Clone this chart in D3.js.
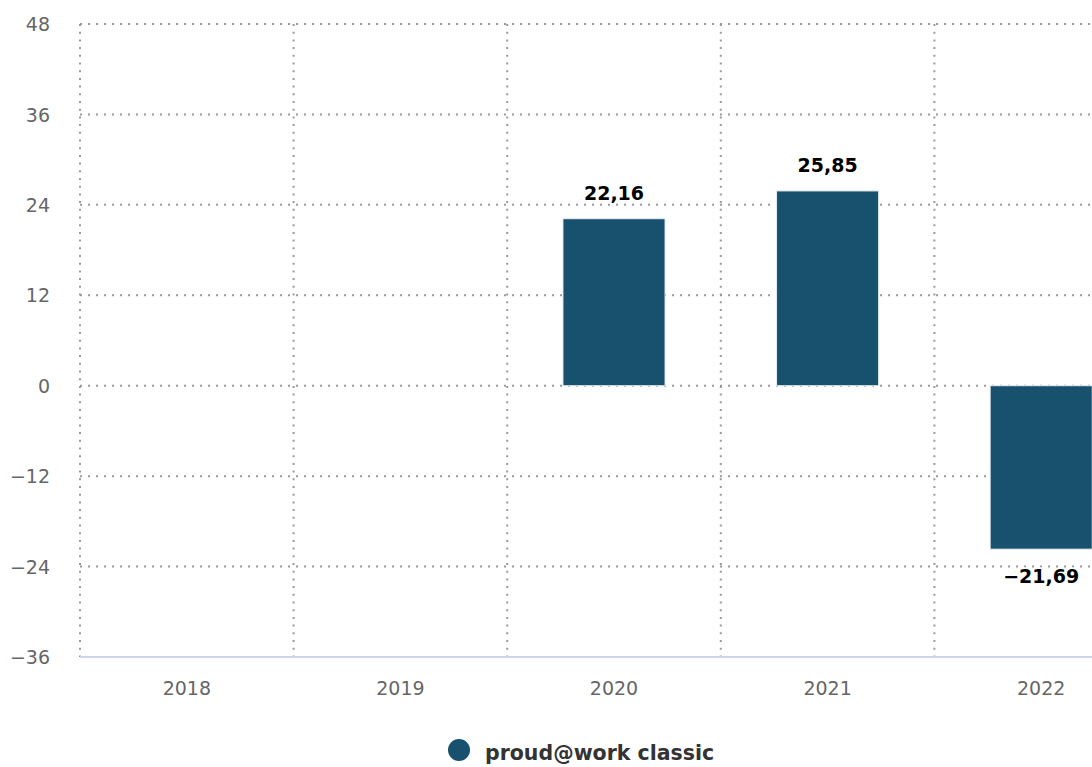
<!DOCTYPE html>
<html><head><meta charset="utf-8">
<script src="https://cdn.jsdelivr.net/npm/d3@7"></script>
<style>
html,body{margin:0;padding:0;background:#fff;overflow:hidden}
svg{display:block}
</style></head>
<body>
<script>
const categories = ["2018","2019","2020","2021","2022"];
const values = [null, null, 22.16, 25.85, -21.69];
const labels = ["", "", "22,16", "25,85", "\u221221,69"];
const yTicks = [-36,-24,-12,0,12,24,36,48];
const seriesName = "proud@work classic";

const W = 1092, H = 767;
const mLeft = 80, mRight = 1148, mTop = 24, mBottom = 657;
const font = "'DejaVu Sans', Verdana, sans-serif";

const svg = d3.select("body").append("svg").attr("width", W).attr("height", H);

const x = d3.scaleBand().domain(categories).range([mLeft, mRight]).paddingInner(0).paddingOuter(0);
const y = d3.scaleLinear().domain([-36, 48]).range([mBottom, mTop]);

// horizontal gridlines
svg.append("g").selectAll("line").data(yTicks.filter(d => d !== -36)).join("line")
  .attr("x1", mLeft).attr("x2", mRight)
  .attr("y1", d => y(d)).attr("y2", d => y(d))
  .attr("stroke", "#9a9a9a").attr("stroke-width", 2).attr("stroke-dasharray", "2,6");

// vertical gridlines at band boundaries
svg.append("g").selectAll("line").data(categories).join("line")
  .attr("x1", d => x(d)).attr("x2", d => x(d))
  .attr("y1", mTop).attr("y2", mBottom)
  .attr("stroke", "#9a9a9a").attr("stroke-width", 2).attr("stroke-dasharray", "2,5.7");

// y axis labels
const yAxis = d3.axisLeft(y).tickValues(yTicks).tickSize(0).tickPadding(0)
  .tickFormat(d => d < 0 ? "\u2212" + Math.abs(d) : String(d));
const yg = svg.append("g").attr("transform", `translate(50,0)`).call(yAxis);
yg.select(".domain").remove();
yg.selectAll("text").attr("font-family", font).attr("font-size", 19).attr("fill", "#666").attr("dy", "0.35em");

// x axis
const xAxis = d3.axisBottom(x).tickSize(0).tickPadding(0);
const xg = svg.append("g").attr("transform", `translate(0,${mBottom})`).call(xAxis);
xg.select(".domain").remove();
xg.selectAll("text").attr("font-family", font).attr("font-size", 19).attr("fill", "#666").attr("y", 38).attr("dy", 0);
svg.append("line").attr("x1", mLeft).attr("x2", mRight).attr("y1", mBottom).attr("y2", mBottom)
  .attr("stroke", "#ccd6eb").attr("stroke-width", 2);

// bars
const bw = x.bandwidth() * 0.478;
const data = categories.map((c, i) => ({c, v: values[i], l: labels[i]})).filter(d => d.v !== null);
svg.append("g").selectAll("rect").data(data).join("rect")
  .attr("x", d => x(d.c) + x.bandwidth()/2 - bw/2)
  .attr("width", bw)
  .attr("y", d => y(Math.max(0, d.v)))
  .attr("height", d => Math.abs(y(d.v) - y(0)))
  .attr("fill", "#17516e").attr("stroke", "#e6eef3").attr("stroke-width", 1);

// data labels
svg.append("g").selectAll("text").data(data).join("text")
  .attr("x", d => x(d.c) + x.bandwidth()/2)
  .attr("y", d => d.v >= 0 ? y(d.v) - 19 : y(d.v) + 34)
  .attr("text-anchor", "middle")
  .attr("font-family", font).attr("font-size", 19).attr("font-weight", "bold")
  .attr("fill", "#000").attr("stroke", "#fff").attr("stroke-width", 3).attr("paint-order", "stroke")
  .attr("stroke-linejoin", "round")
  .text(d => d.l);

// legend
const lg = svg.append("g");
lg.append("circle").attr("cx", 459).attr("cy", 750).attr("r", 11).attr("fill", "#17516e");
lg.append("text").attr("x", 485).attr("y", 760).attr("font-family", font).attr("font-size", 20.5)
  .attr("font-weight", "bold").attr("fill", "#333").text(seriesName);
</script>
</body></html>
